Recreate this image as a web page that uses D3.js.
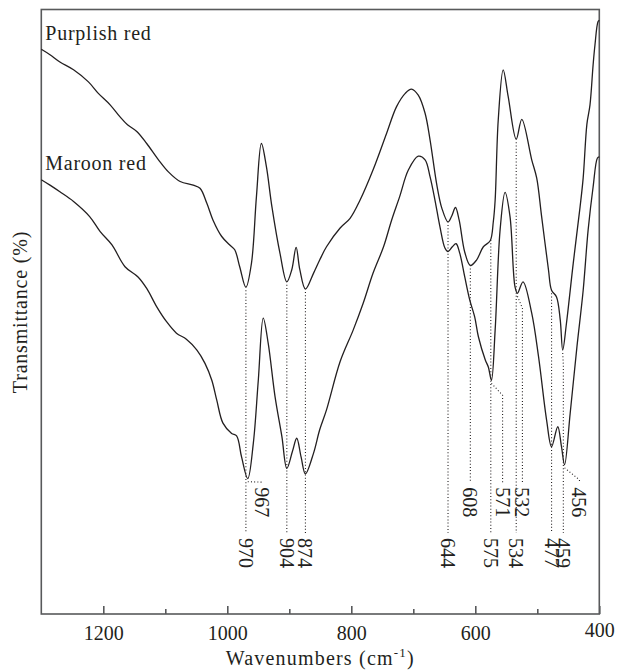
<!DOCTYPE html>
<html><head><meta charset="utf-8">
<script src="https://cdn.jsdelivr.net/npm/d3@7"></script>
<style>
html,body{margin:0;padding:0;background:#fff;}
svg{display:block;}
</style></head><body>
<svg id="chart" width="619" height="671"></svg>
<script>
// ---------------- data ----------------
const seriesNames = ["Purplish red", "Maroon red"];

const purplishWavenumbers = [1300,1286,1270,1248,1224,1208,1189,1173,1161,1146,1130,1111,1095,1076,1055,1044,1033,1023,1009,996,988,980,970,961,953,945,937,928,915,904,896,889,883,874,861,851,840,818,802,786,765,743,727,713,703,692,681,673,662,654,644,638,632,626,617,608,598,587,576,571,568,563,555,547,534,525,509,501,493,482,477,469,463,459,453,442,431,426,420,415,410,407,402,400];
const purplishTransmittance = [93.5,92.6,91.4,90.1,88.1,86.2,84.3,82.3,81.0,79.9,77.9,75.2,73.2,71.6,71.0,70.5,68.0,65.2,62.5,61.1,60.3,57.5,54.1,58.1,69.1,77.9,74.1,67.4,59.7,55.0,57.0,60.7,57.0,53.8,56.4,58.6,60.8,63.9,65.5,68.5,73.5,79.6,84.0,86.2,86.9,85.9,82.9,78.5,71.0,67.2,64.9,65.9,67.3,65.2,59.9,57.7,58.6,60.8,61.8,64.9,68.5,81.8,90.1,85.7,78.6,81.9,75.2,72.2,65.8,57.0,53.6,52.5,48.7,43.7,48.1,58.1,67.4,72.2,81.1,84.3,90.9,94.2,98.1,98.3];

const maroonWavenumbers = [1300,1286,1270,1248,1222,1205,1186,1165,1144,1130,1114,1098,1082,1066,1049,1036,1025,1017,1007,993,985,977,967,958,950,942,934,923,912,904,895,888,881,874,861,851,840,818,797,781,765,748,735,722,708,692,681,673,665,657,649,644,637,631,625,617,609,601,595,584,579,574,568,560,552,544,536,532,523,509,498,485,477,467,461,456,447,436,426,418,410,403,400];
const maroonTransmittance = [71.9,71.0,69.9,68.3,65.8,63.3,61.1,57.5,55.8,53.9,50.9,48.4,46.5,45.5,43.7,41.5,38.7,35.4,31.6,29.9,29.5,26.0,22.4,28.3,38.7,49.0,44.8,36.0,29.4,24.1,26.9,29.1,26.0,23.2,26.6,30.5,33.8,41.8,47.0,51.4,56.4,60.8,65.2,69.1,73.5,75.8,75.2,72.4,68.5,64.1,60.6,60.0,60.8,61.3,59.7,55.8,52.0,49.2,45.9,42.1,40.9,38.7,47.0,63.6,69.8,65.8,54.2,53.1,55.0,49.8,42.6,32.1,27.7,31.0,27.7,24.7,33.2,44.3,53.6,63.6,70.7,75.5,75.7];

const majorTicks = [1200, 1000, 800, 600, 400];
const minorTicks = [1100, 900, 700, 500];

// peak annotations
const peakLabels = [970, 967, 904, 874, 644, 608, 575, 571, 534, 532, 477, 459, 456];
const peakSeries = ["Purplish red","Maroon red","Purplish red","Purplish red","Purplish red","Purplish red","Purplish red","Maroon red","Purplish red","Maroon red","Purplish red","Purplish red","Maroon red"];
const peakWavenumbers = [970, 967, 904, 874, 644, 608, 575, 574, 534, 532, 477, 459, 456];
const peakLabelWavenumbers = [970, 944, 904, 874, 644, 608, 575, 556, 534, 524, 477, 458, 432];
const peakLabelRow = ["low","high","low","low","low","high","low","high","low","high","low","low","high"];
const labelLevels = {low: 12.6, high: 21.0};

// ---------------- chart ----------------
const FONT = "'Liberation Serif', 'Times New Roman', Times, 'DejaVu Serif', serif";
const svg = d3.select("#chart");
const plot = {left: 41.3, right: 599.3, top: 10, bottom: 614};
const x = d3.scaleLinear().domain([1300, 400]).range([plot.left, plot.right]);
const y = d3.scaleLinear().domain([0, 100]).range([plot.bottom, plot.top]);

const frameColor = "#58595b";
const inkColor = "#231f20";

const series = {
  "Purplish red": purplishWavenumbers.map((w, i) => ({wn: w, t: purplishTransmittance[i]})),
  "Maroon red": maroonWavenumbers.map((w, i) => ({wn: w, t: maroonTransmittance[i]}))
};

function valueAt(name, wn) {
  const pts = series[name];
  for (let i = 0; i < pts.length - 1; i++) {
    const a = pts[i], b = pts[i + 1];
    if (wn <= a.wn && wn >= b.wn) {
      const f = (a.wn - wn) / (a.wn - b.wn);
      return a.t + f * (b.t - a.t);
    }
  }
  return pts[pts.length - 1].t;
}

// frame
svg.append("rect")
  .attr("x", plot.left).attr("y", plot.top - 0.5)
  .attr("width", plot.right - plot.left).attr("height", plot.bottom - plot.top + 0.5)
  .attr("fill", "none").attr("stroke", frameColor).attr("stroke-width", 1.6);

// axes
const gx = svg.append("g")
  .attr("transform", `translate(0,${plot.bottom})`)
  .call(d3.axisBottom(x).tickValues(majorTicks).tickSize(-8).tickPadding(12).tickFormat(d3.format("d")));
gx.select(".domain").remove();
gx.attr("font-family", FONT).attr("font-size", 20);
gx.selectAll(".tick line").attr("stroke", frameColor).attr("stroke-width", 1.6);
gx.selectAll(".tick text").attr("fill", inkColor)
  .attr("dy", d => d === 400 ? "0.55em" : "0.71em");

const gm = svg.append("g")
  .attr("transform", `translate(0,${plot.bottom})`)
  .call(d3.axisBottom(x).tickValues(minorTicks).tickSize(-5).tickFormat(""));
gm.select(".domain").remove();
gm.selectAll(".tick line").attr("stroke", frameColor).attr("stroke-width", 1.6);

// dotted annotation lines
const ann = peakLabels.map((lab, i) => ({
  label: lab, s: peakSeries[i], wn: peakWavenumbers[i],
  lwn: peakLabelWavenumbers[i], row: peakLabelRow[i]
}));

const annG = svg.append("g");
ann.forEach(a => {
  const x0 = x(a.wn);
  const y0 = y(valueAt(a.s, a.wn)) + 3;
  const xl = x(a.lwn);
  const yTop = y(labelLevels[a.row]);
  const yEnd = yTop - 5;
  let d;
  if (Math.abs(xl - x0) < 0.5) {
    d = `M${x0},${y0}L${x0},${yEnd}`;
  } else {
    const kink = Math.min(y0 + 12, yEnd);
    d = `M${x0},${y0}L${xl},${kink}L${xl},${yEnd}`;
  }
  annG.append("path").attr("d", d)
    .attr("fill", "none").attr("stroke", inkColor).attr("stroke-width", 1.1)
    .attr("stroke-dasharray", "1 2.2");
  annG.append("text")
    .attr("transform", `translate(${xl},${yTop}) rotate(90)`)
    .attr("dy", "0.35em").attr("font-size", 20).attr("font-family", FONT)
    .attr("fill", inkColor).attr("text-anchor", "start")
    .text(a.label);
});

// curves
const line = d3.line().x(d => x(d.wn)).y(d => y(d.t)).curve(d3.curveCatmullRom.alpha(0.5));
seriesNames.forEach(name => {
  svg.append("path").datum(series[name])
    .attr("d", line).attr("fill", "none")
    .attr("stroke", inkColor).attr("stroke-width", 1.3);
  const first = series[name][0];
  svg.append("text")
    .attr("x", x(first.wn) + 4).attr("y", y(first.t) - 9.5)
    .attr("font-size", 20).attr("font-family", FONT).attr("fill", inkColor)
    .attr("letter-spacing", "0.75px")
    .text(name);
});

// axis titles
const xt = svg.append("text")
  .attr("x", (plot.left + plot.right) / 2).attr("y", 665)
  .attr("text-anchor", "middle").attr("font-size", 20).attr("font-family", FONT)
  .attr("fill", inkColor).attr("letter-spacing", "1.2px");
xt.append("tspan").text("Wavenumbers (cm");
xt.append("tspan").attr("font-size", 13).attr("dy", -8).text("-1");
xt.append("tspan").attr("dy", 8).text(")");

svg.append("text")
  .attr("transform", `translate(27,${(plot.top + plot.bottom) / 2}) rotate(-90)`)
  .attr("text-anchor", "middle").attr("font-size", 20).attr("font-family", FONT)
  .attr("fill", inkColor).attr("letter-spacing", "0.8px")
  .text("Transmittance (%)");
</script>
</body></html>
